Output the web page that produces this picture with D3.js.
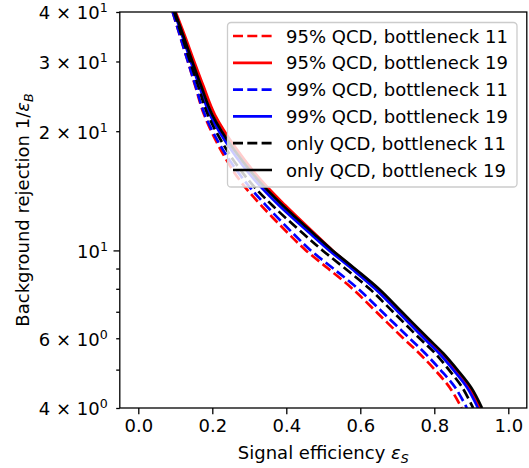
<!DOCTYPE html>
<html>
<head>
<meta charset="utf-8">
<script src="https://cdn.jsdelivr.net/npm/d3@7"></script>
<style>
  body { margin: 0; background: #fff; }
  text { font-family: "DejaVu Sans", sans-serif; }
</style>
</head>
<body>
<div id="chart"></div>
<script>
// background rejection levels (1/eps_B) shared by every curve
const rejection = [40, 35, 30, 26, 22, 18, 15, 13, 11, 10, 9, 8, 7, 6, 5.5, 5, 4.5, 4];

// signal efficiency, one list per curve
const eff95b11 = [0.093, 0.112, 0.134, 0.154, 0.178, 0.222, 0.275, 0.332, 0.407, 0.453, 0.513, 0.579, 0.643, 0.716, 0.759, 0.801, 0.842, 0.874];
const eff95b19 = [0.101, 0.125, 0.151, 0.176, 0.207, 0.266, 0.333, 0.397, 0.478, 0.525, 0.583, 0.647, 0.708, 0.778, 0.818, 0.856, 0.894, 0.923];
const eff99b11 = [0.093, 0.112, 0.134, 0.155, 0.180, 0.228, 0.287, 0.345, 0.420, 0.466, 0.527, 0.594, 0.659, 0.733, 0.775, 0.816, 0.857, 0.888];
const eff99b19 = [0.097, 0.118, 0.142, 0.165, 0.194, 0.250, 0.316, 0.380, 0.466, 0.516, 0.576, 0.640, 0.702, 0.772, 0.813, 0.851, 0.889, 0.918];
const effQb11  = [0.097, 0.117, 0.140, 0.162, 0.188, 0.238, 0.299, 0.362, 0.447, 0.498, 0.559, 0.625, 0.688, 0.760, 0.802, 0.839, 0.876, 0.905];
const effQb19  = [0.099, 0.121, 0.146, 0.170, 0.200, 0.258, 0.325, 0.390, 0.475, 0.525, 0.585, 0.650, 0.712, 0.783, 0.824, 0.862, 0.900, 0.929];

const seriesNames = ['95% QCD, bottleneck 11', '95% QCD, bottleneck 19',
                     '99% QCD, bottleneck 11', '99% QCD, bottleneck 19',
                     'only QCD, bottleneck 11', 'only QCD, bottleneck 19'];
const seriesColors = ['#ff0000', '#ff0000', '#0000ff', '#0000ff', '#000000', '#000000'];
const seriesDashed = [true, false, true, false, true, false];
const seriesValues = [eff95b11, eff95b19, eff99b11, eff99b19, effQb11, effQb19];

const xTicks = [0, 0.2, 0.4, 0.6, 0.8, 1.0];
const yMajor = [10];
const yMinor = [4, 5, 6, 7, 8, 9, 20, 30, 40];
// [mantissa, exponent] for the labelled ticks
const yLabels = { 4: ['4', '0'], 6: ['6', '0'], 10: ['', '1'], 20: ['2', '1'], 30: ['3', '1'], 40: ['4', '1'] };

const width = 529, height = 468;
const pLeft = 119.8, pRight = 526.8, pTop = 12, pBottom = 408;
const fs = 18;

const svg = d3.select('#chart').append('svg')
  .attr('width', width).attr('height', height);

const x = d3.scaleLinear().domain([-0.05, 1.05]).range([pLeft, pRight]);
const y = d3.scaleLog().domain([4, 40]).range([pBottom, pTop]);

svg.append('clipPath').attr('id', 'clip')
  .append('rect').attr('x', pLeft).attr('y', pTop)
  .attr('width', pRight - pLeft).attr('height', pBottom - pTop);

const line = d3.line().curve(d3.curveCatmullRom.alpha(0.5));

const plot = svg.append('g').attr('clip-path', 'url(#clip)');
seriesValues.forEach((vals, i) => {
  const pts = vals.map((v, j) => [x(v), y(rejection[j])]);
  plot.append('path')
    .attr('d', line(pts))
    .attr('fill', 'none')
    .attr('stroke', seriesColors[i])
    .attr('stroke-width', 2.7)
    .attr('stroke-dasharray', seriesDashed[i] ? '10,4.3' : null);
});

// axes
function styleAxis(g) {
  g.select('.domain').remove();
  g.selectAll('.tick line').attr('stroke', '#000').attr('stroke-width', 1.3);
  g.selectAll('text').attr('fill', '#000').style('font-size', fs + 'px')
    .style('font-family', '"DejaVu Sans", sans-serif');
}

svg.append('g').attr('transform', `translate(0,${pBottom})`)
  .call(d3.axisBottom(x).tickValues(xTicks).tickFormat(d3.format('.1f')).tickSize(6.3).tickPadding(5))
  .call(styleAxis);

function yLabel(sel) {
  sel.each(function(d) {
    const t = d3.select(this);
    t.text(null);
    const lab = yLabels[d];
    if (!lab) return;
    t.attr('dy', null).attr('y', 6.8);
    t.append('tspan').text(lab[0] ? lab[0] + ' \u00d7 10' : '10');
    t.append('tspan').attr('dy', -7).style('font-size', (fs * 0.7) + 'px').text(lab[1]);
  });
}

svg.append('g').attr('transform', `translate(${pLeft},0)`)
  .call(d3.axisLeft(y).tickValues(yMinor).tickSize(3.6).tickPadding(8.5))
  .call(styleAxis)
  .selectAll('text').call(yLabel);

svg.append('g').attr('transform', `translate(${pLeft},0)`)
  .call(d3.axisLeft(y).tickValues(yMajor).tickSize(6.3).tickPadding(5.5))
  .call(styleAxis)
  .selectAll('text').call(yLabel);

// frame
svg.append('rect').attr('x', pLeft).attr('y', pTop)
  .attr('width', pRight - pLeft).attr('height', pBottom - pTop)
  .attr('fill', 'none').attr('stroke', '#000').attr('stroke-width', 1.3);

// axis titles
const xt = svg.append('text').attr('x', (pLeft + pRight) / 2).attr('y', 459)
  .attr('text-anchor', 'middle').style('font-size', fs + 'px');
xt.append('tspan').text('Signal efficiency ');
xt.append('tspan').style('font-style', 'italic').text('\u03b5');
xt.append('tspan').style('font-style', 'italic').style('font-size', (fs * 0.7) + 'px').attr('dy', 4).text('S');

const yt = svg.append('text')
  .attr('transform', `translate(29,${(pTop + pBottom) / 2}) rotate(-90)`)
  .attr('text-anchor', 'middle').style('font-size', fs + 'px');
yt.append('tspan').text('Background rejection 1/');
yt.append('tspan').style('font-style', 'italic').text('\u03b5');
yt.append('tspan').style('font-style', 'italic').style('font-size', (fs * 0.7) + 'px').attr('dy', 4).text('B');

// legend
const lg = svg.append('g');
lg.append('rect').attr('x', 227.5).attr('y', 22.5).attr('width', 289.5).attr('height', 164.5)
  .attr('rx', 3.6).attr('fill', '#fff').attr('fill-opacity', 0.8)
  .attr('stroke', '#cccccc').attr('stroke-width', 1.3);
seriesNames.forEach((name, i) => {
  const cy = 36 + i * 26.8;
  lg.append('line').attr('x1', 233).attr('x2', 272).attr('y1', cy).attr('y2', cy)
    .attr('stroke', seriesColors[i]).attr('stroke-width', 2.7)
    .attr('stroke-dasharray', seriesDashed[i] ? '10,4.3' : null);
  lg.append('text').attr('x', 286).attr('y', cy + 6.5)
    .style('font-size', fs + 'px').attr('fill', '#000').text(name);
});
</script>
</body>
</html>
